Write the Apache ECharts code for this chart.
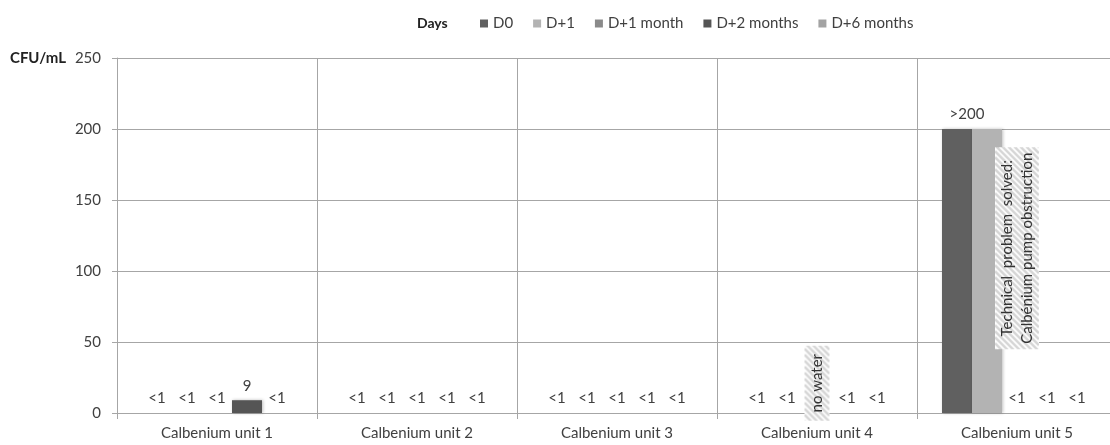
<!DOCTYPE html>
<html>
<head>
<meta charset="utf-8">
<script src="https://cdn.jsdelivr.net/npm/echarts@6/dist/echarts.min.js"></script>
<style>
  html, body { margin: 0; padding: 0; background: #fff; }
  #chart { width: 1110px; height: 445px; }
</style>
</head>
<body>
<div id="chart"></div>
<script>
const categories = ['Calbenium unit 1', 'Calbenium unit 2', 'Calbenium unit 3', 'Calbenium unit 4', 'Calbenium unit 5']
const seriesNames = ['D0', 'D+1', 'D+1 month', 'D+2 months', 'D+6 months']

// "<1" is drawn as 0, the missing sample as null
const d0 = [0, 0, 0, 0, 200]
const d1 = [0, 0, 0, 0, 200]
const d1m = [0, 0, 0, null, 0]
const d2m = [9, 0, 0, 0, 0]
const d6m = [0, 0, 0, 0, 0]

const d0Labels = ['<1', '<1', '<1', '<1', '>200']
const d1Labels = ['<1', '<1', '<1', '<1', '']
const d1mLabels = ['<1', '<1', '<1', '', '<1']
const d2mLabels = ['9', '<1', '<1', '<1', '<1']
const d6mLabels = ['<1', '<1', '<1', '<1', '<1']

const yTicks = [0, 50, 100, 150, 200, 250]

// annotations: category, value where the box is centred, text
const noteCats = ['Calbenium unit 4', 'Calbenium unit 5']
const noteValues = [21, 116]
const noteTexts = ['no water', 'Technical  problem  solved:\nCalbénium pump obstruction']

const colors = ['#606060', '#b3b3b3', '#8a8a8a', '#555555', '#a3a3a3']
const textColor = '#404040'
const lineColor = '#a6a6a6'
const font = 'Lato'
const fs = 15

function makeHatch(w, h) {
	const c = document.createElement('canvas')
	c.width = w
	c.height = h
	const ctx = c.getContext('2d')
	ctx.fillStyle = '#ffffff'
	ctx.fillRect(0, 0, w, h)
	ctx.strokeStyle = '#d6d6d6'
	ctx.lineWidth = 2.5
	for (let i = -h; i < w + h; i += 6) {
		ctx.beginPath()
		ctx.moveTo(i, h)
		ctx.lineTo(i + h, 0)
		ctx.stroke()
	}
	return c
}

const noteSizes = [[75, 25], [202, 44]]

const allData = [d0, d1, d1m, d2m, d6m]
const allLabels = [d0Labels, d1Labels, d1mLabels, d2mLabels, d6mLabels]

const series = seriesNames.map((name, i) => {
	const labels = allLabels[i]
	const s = {
		name: name,
		type: 'bar',
		barGap: 0,
		barCategoryGap: '25%',
		data: allData[i].map((v, j) => ({
			value: v,
			label: {
				show: labels[j] !== '',
				offset: labels[j] === '>200' ? [10, 0] : [0, 0],
			},
		})),
		itemStyle: {
			color: colors[i],
			shadowBlur: 3,
			shadowColor: 'rgba(0,0,0,0.25)',
			shadowOffsetX: 1,
			shadowOffsetY: 0,
		},
		label: {
			show: true,
			position: 'top',
			distance: 7,
			color: textColor,
			fontFamily: font,
			fontSize: fs,
			formatter: (p) => labels[p.dataIndex],
		},
	}
	if (name === 'D+1 month') {
		s.markPoint = {
			symbol: 'rect',
			symbolSize: 0,
			silent: true,
			data: noteCats.map((cat, k) => ({
				coord: [cat, noteValues[k]],
				label: {
					show: true,
					position: 'inside',
					rotate: 90,
					formatter: noteTexts[k],
					width: noteSizes[k][0],
					height: noteSizes[k][1],
					align: 'center',
					verticalAlign: 'middle',
					lineHeight: 20,
					color: '#333333',
					fontFamily: font,
					fontSize: fs,
					backgroundColor: { image: makeHatch(noteSizes[k][0], noteSizes[k][1]) },
				},
			})),
		}
	}
	return s
})

const chart = echarts.init(document.getElementById('chart'), null, { renderer: 'canvas' })
chart.setOption({
	animation: false,
	backgroundColor: '#ffffff',
	textStyle: { fontFamily: font },
	title: {
		text: 'Days',
		left: 412,
		top: 11,
		textStyle: { fontSize: 14, fontWeight: 'bold', color: '#222222', fontFamily: font },
	},
	legend: {
		data: seriesNames,
		left: 475,
		top: 11,
		icon: 'rect',
		itemWidth: 8,
		itemHeight: 8,
		itemGap: 20,
		textStyle: { fontSize: fs, color: textColor, fontFamily: font },
	},
	grid: {
		left: 117,
		width: 1000,
		top: 58,
		bottom: 32,
		outerBoundsMode: 'none',
	},
	xAxis: {
		type: 'category',
		data: categories,
		axisLine: { show: true, lineStyle: { color: lineColor } },
		axisTick: { show: true, length: 6, lineStyle: { color: lineColor } },
		splitLine: { show: true, lineStyle: { color: lineColor } },
		axisLabel: { color: textColor, fontSize: fs, fontFamily: font, margin: 13 },
	},
	yAxis: {
		type: 'value',
		min: yTicks[0],
		max: yTicks[yTicks.length - 1],
		interval: 50,
		name: 'CFU/mL',
		nameLocation: 'end',
		nameGap: 0,
		nameTextStyle: {
			align: 'right',
			verticalAlign: 'middle',
			padding: [0, 51, 0, 0],
			fontWeight: 'bold',
			fontSize: 15,
			color: '#222222',
			fontFamily: font,
		},
		axisLine: { show: true, lineStyle: { color: lineColor } },
		axisTick: { show: true, length: 5, lineStyle: { color: lineColor } },
		splitLine: { show: true, lineStyle: { color: lineColor } },
		axisLabel: { color: textColor, fontSize: fs, fontFamily: font, margin: 16 },
	},
	series: series,
})
</script>
</body>
</html>
